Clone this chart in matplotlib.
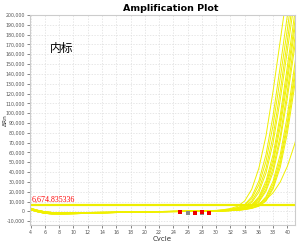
import matplotlib
matplotlib.use("Agg")
import matplotlib.pyplot as plt
from matplotlib.ticker import FuncFormatter, MultipleLocator

plt.rcParams['font.family'] = ['DejaVu Sans']

# ---------------- data ----------------
base_cycles = list(range(4, 30))
rise_cycles = list(range(30, 43))

baseline_a = [3000, 1000, -500, -1200, -1500, -1500, -1400, -1300, -1200, -1100, -1000, -900, -800,
              -700, -600, -500, -400, -300, -200, -100, 0, 100, 200, 300, 400, 600]
baseline_b = [1500, -500, -2000, -2600, -2700, -2600, -2400, -2200, -2000, -1800, -1600, -1400, -1200,
              -1000, -900, -800, -700, -600, -500, -400, -300, -200, -100, 0, 100, 300]
baseline_c = [2200, 300, -1200, -1900, -2100, -2100, -2000, -1800, -1600, -1500, -1300, -1200, -1000,
              -900, -800, -700, -500, -400, -300, -200, -100, 0, 100, 200, 300, 400]

rise_1 = [1000, 1700, 2900, 5100, 10500, 22500, 44000, 77000, 123000, 174000, 226000, 278000, 330000]
rise_2 = [800, 1300, 2200, 3900, 6700, 15000, 31000, 58000, 98000, 148000, 200000, 252000, 304000]
rise_3 = [700, 1200, 2000, 3500, 6000, 13000, 27000, 51000, 88000, 136000, 186000, 238000, 290000]
rise_4 = [600, 1000, 1700, 2900, 5100, 10500, 22500, 44000, 77000, 123000, 174000, 226000, 278000]
rise_5 = [600, 900, 1500, 2600, 4500, 9000, 19500, 39000, 70000, 114000, 164000, 215000, 266000]
rise_6 = [500, 800, 1300, 2200, 3900, 6700, 15000, 31000, 58000, 98000, 148000, 200000, 252000]
rise_7 = [500, 700, 1200, 2000, 3500, 6200, 13500, 28000, 53000, 92000, 140000, 191000, 243000]
rise_8 = [400, 700, 1100, 1900, 3300, 5800, 12000, 25500, 49000, 86000, 133000, 184000, 235000]
rise_9 = [400, 600, 1000, 1700, 2900, 5100, 10500, 22500, 44000, 77000, 123000, 174000, 226000]
rise_10 = [400, 600, 900, 1600, 2700, 4700, 9500, 20500, 40000, 72000, 116000, 166000, 218000]
rise_11 = [300, 500, 800, 1300, 2200, 3900, 6700, 15000, 31000, 58000, 98000, 148000, 200000]
rise_12 = [300, 500, 800, 1200, 2000, 3500, 6100, 13500, 28000, 53000, 91000, 140000, 191000]
rise_13 = [300, 400, 700, 1100, 1900, 3200, 5600, 11500, 25000, 49000, 86000, 134000, 185000]
rise_14 = [300, 400, 700, 1000, 1800, 3000, 5200, 10500, 23000, 45000, 80000, 127000, 178000]
rise_out = [200, 400, 700, 1500, 3000, 5000, 8000, 12000, 19000, 30000, 46000, 68000, 95000]

curves = [
    (baseline_a, rise_1), (baseline_c, rise_2), (baseline_b, rise_3), (baseline_a, rise_4),
    (baseline_c, rise_5), (baseline_b, rise_6), (baseline_a, rise_7), (baseline_c, rise_8),
    (baseline_b, rise_9), (baseline_a, rise_10), (baseline_c, rise_11), (baseline_b, rise_12),
    (baseline_a, rise_13), (baseline_c, rise_14), (baseline_b, rise_out),
]

threshold = 6674.835336
threshold_label = "6,674.835336"

marker_red_x = [25, 27, 28, 29]
marker_red_y = [-1000, -1200, -700, -1300]
marker_gray_x = [26, 28]
marker_gray_y = [-1600, -1500]

title = "Amplification Plot"
xlabel = "Cycle"
ylabel = "ΔRn"
note = "内标"

# ---------------- plot ----------------
fig = plt.figure(figsize=(3.0, 2.41), dpi=100)
ax = fig.add_axes([0.1, 0.066, 0.883, 0.872])
ax.set_facecolor('white')

ycol = '#f0f000'
for base, rise in curves:
    ax.plot(base_cycles + rise_cycles, base + rise, color=ycol, lw=0.7, solid_joinstyle='round')

ax.axhline(threshold, color='#eeee00', lw=1.6)

ax.scatter(marker_gray_x, marker_gray_y, marker='s', s=6, color='#8a8a8a', zorder=5, linewidths=0)
ax.scatter(marker_red_x, marker_red_y, marker='s', s=6, color='#ee0000', zorder=6, linewidths=0)

ax.set_xlim(3.9, 41.05)
ax.set_ylim(-14000, 200000)
ax.yaxis.set_major_locator(MultipleLocator(10000))
ax.set_xticks(list(range(4, 41, 2)))
ax.yaxis.set_major_formatter(FuncFormatter(lambda v, p: f"{int(v):,}"))

ax.grid(True, color='#dddddd', lw=0.5, ls=(0, (2, 2)))
ax.set_axisbelow(True)
for s in ax.spines.values():
    s.set_color('#cccccc')
    s.set_linewidth(0.8)

ax.tick_params(axis='both', labelsize=3.4, colors='#555555', length=2, width=0.5, pad=1.5)

ax.set_title(title, fontsize=6.8, fontweight='bold', pad=3, x=0.53)
ax.set_xlabel(xlabel, fontsize=5, color='#333333', labelpad=1)
ax.set_ylabel(ylabel, fontsize=4.2, color='#333333')
ax.yaxis.set_label_coords(-0.085, 0.5)

ax.text(4.15, threshold + 1200, threshold_label, color='red', fontsize=5.7,
        family=['Liberation Serif', 'DejaVu Serif'], va='bottom', ha='left')

ax.text(0.075, 0.84, note, transform=ax.transAxes, fontsize=8.5,
        family=['Noto Sans CJK SC', 'DejaVu Sans'], va='center', ha='left', color='black')

fig.savefig("out.png", dpi=100)
